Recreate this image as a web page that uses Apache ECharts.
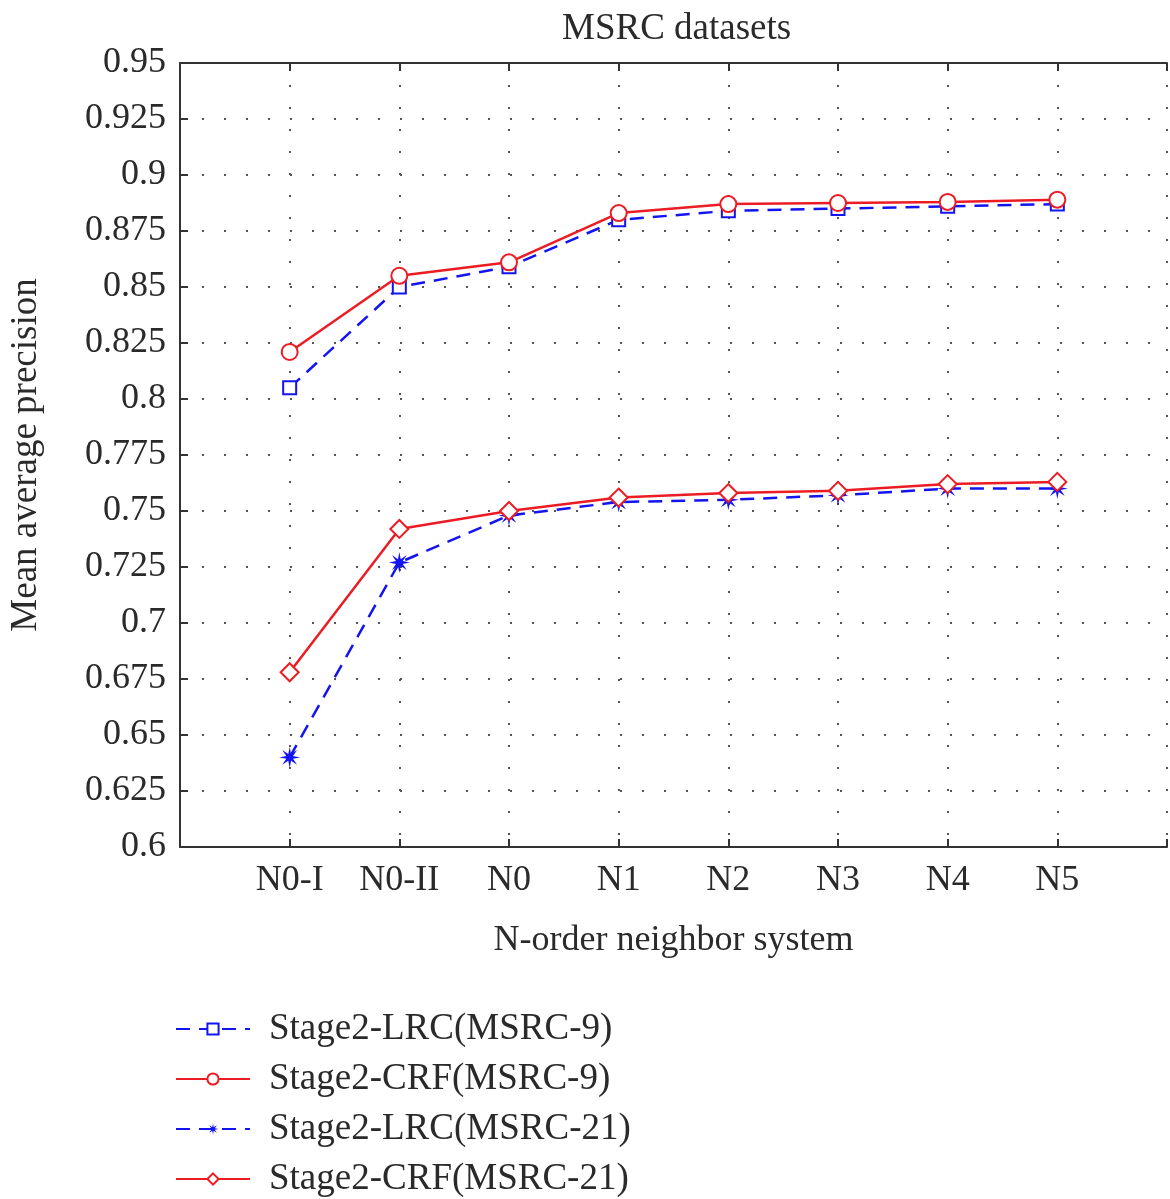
<!DOCTYPE html>
<html>
<head>
<meta charset="utf-8">
<script src="https://cdn.jsdelivr.net/npm/echarts@6/dist/echarts.min.js"></script>
<style>
  html, body { margin: 0; padding: 0; background: #fff; }
  #main { width: 1170px; height: 1199px; }
</style>
</head>
<body>
<div id="main"></div>
<script>
// data
var categories = ['N0-I', 'N0-II', 'N0', 'N1', 'N2', 'N3', 'N4', 'N5'];
var lrc9  = [0.805, 0.850, 0.859, 0.880, 0.884, 0.885, 0.886, 0.887];
var crf9  = [0.821, 0.855, 0.861, 0.883, 0.887, 0.8875, 0.888, 0.889];
var lrc21 = [0.640, 0.727, 0.748, 0.754, 0.755, 0.757, 0.760, 0.760];
var crf21 = [0.678, 0.742, 0.750, 0.756, 0.758, 0.759, 0.762, 0.763];

var blue = '#1414f0';
var red = '#ec1c24';
var textColor = '#2a2a2a';
var font = 'Liberation Serif';
var starPath = 'path://M0,-10 L1.34,-3.23 L7.07,-7.07 L3.23,-1.34 L10,0 L3.23,1.34 L7.07,7.07 L1.34,3.23 L0,10 L-1.34,3.23 L-7.07,7.07 L-3.23,1.34 L-10,0 L-3.23,-1.34 L-7.07,-7.07 L-1.34,-3.23 Z';

function pts(arr) {
  return arr.map(function (v, i) { return [i + 1, v]; });
}

var myChart = echarts.init(document.getElementById('main'));
var option = {
  backgroundColor: '#fff',
  animation: false,
  title: {
    text: 'MSRC datasets',
    left: 557,
    top: 6,
    textStyle: { fontFamily: font, fontSize: 37, fontWeight: 'normal', color: textColor }
  },
  grid: { left: 180, top: 63, right: -4, bottom: 352 },
  legend: {
    orient: 'vertical',
    left: 175,
    top: 1010,
    padding: 0,
    itemWidth: 74,
    itemHeight: 14,
    itemGap: 12,
    textStyle: { fontFamily: font, fontSize: 37, color: textColor, lineHeight: 38, padding: [0, 0, 0, 14] },
    data: ['Stage2-LRC(MSRC-9)', 'Stage2-CRF(MSRC-9)', 'Stage2-LRC(MSRC-21)', 'Stage2-CRF(MSRC-21)']
  },
  xAxis: [
    {
      type: 'value',
      min: 0,
      max: 9,
      interval: 1,
      name: 'N-order neighbor system',
      nameLocation: 'middle',
      nameGap: 76,
      nameTextStyle: { fontFamily: font, fontSize: 36, color: textColor },
      axisLine: { lineStyle: { color: '#333', width: 2 } },
      axisTick: { inside: true, length: 8, lineStyle: { color: '#333', width: 2 } },
      axisLabel: {
        margin: 16,
        fontFamily: font,
        fontSize: 36,
        color: textColor,
        formatter: function (v) { return categories[v - 1] || ''; }
      },
      splitLine: { show: true, lineStyle: { color: '#555', width: 2, type: [2, 20] } }
    },
    {
      type: 'value',
      position: 'top',
      min: 0,
      max: 9,
      interval: 1,
      axisLine: { lineStyle: { color: '#333', width: 2 } },
      axisTick: { inside: true, length: 8, lineStyle: { color: '#333', width: 2 } },
      axisLabel: { show: false },
      splitLine: { show: false }
    }
  ],
  yAxis: {
    type: 'value',
    min: 0.6,
    max: 0.95,
    interval: 0.025,
    name: 'Mean average precision',
    nameLocation: 'middle',
    nameGap: 135,
    nameTextStyle: { fontFamily: font, fontSize: 37, color: textColor },
    axisLine: { show: true, lineStyle: { color: '#333', width: 2 } },
    axisTick: { show: true, inside: true, length: 8, lineStyle: { color: '#333', width: 2 } },
    axisLabel: {
      margin: 14,
      fontFamily: font,
      fontSize: 36,
      color: textColor,
      formatter: function (v) { return String(+v.toFixed(3)); }
    },
    splitLine: { show: true, lineStyle: { color: '#555', width: 2, type: [2, 20] } }
  },
  series: [
    {
      name: 'Stage2-LRC(MSRC-9)',
      type: 'line',
      data: pts(lrc9),
      symbol: 'emptyRect',
      symbolSize: 13,
      color: blue,
      itemStyle: { color: blue, borderColor: blue, borderWidth: 2 },
      lineStyle: { color: blue, width: 2.5, type: [14, 9] },
      z: 2
    },
    {
      name: 'Stage2-CRF(MSRC-9)',
      type: 'line',
      data: pts(crf9),
      symbol: 'emptyCircle',
      symbolSize: 16,
      color: red,
      itemStyle: { color: red, borderColor: red, borderWidth: 2 },
      lineStyle: { color: red, width: 2.5 },
      z: 3
    },
    {
      name: 'Stage2-LRC(MSRC-21)',
      type: 'line',
      data: pts(lrc21),
      symbol: starPath,
      symbolSize: 21,
      color: blue,
      itemStyle: { color: blue },
      lineStyle: { color: blue, width: 2.5, type: [14, 9] },
      z: 2
    },
    {
      name: 'Stage2-CRF(MSRC-21)',
      type: 'line',
      data: pts(crf21),
      symbol: 'emptyDiamond',
      symbolSize: 18,
      color: red,
      itemStyle: { color: red, borderColor: red, borderWidth: 2 },
      lineStyle: { color: red, width: 2.5 },
      z: 3
    }
  ]
};

option && myChart.setOption(option);
</script>
</body>
</html>
